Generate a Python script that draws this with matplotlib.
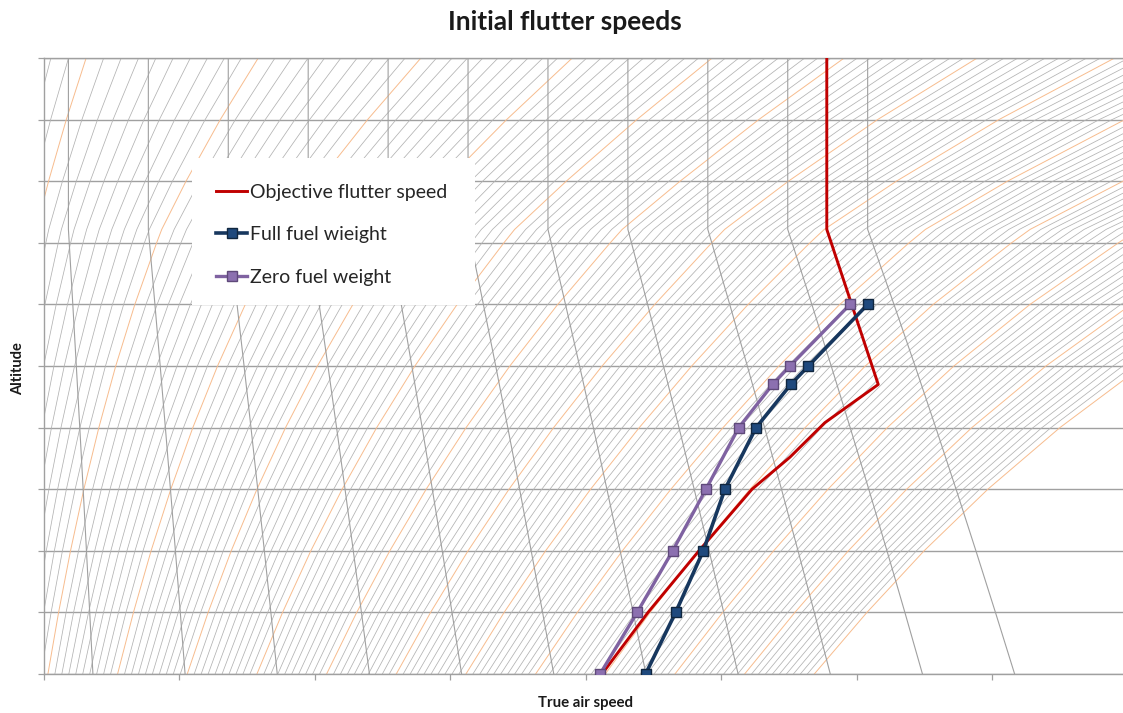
import numpy as np
import matplotlib
matplotlib.use("Agg")
import matplotlib.pyplot as plt
from matplotlib.patches import Rectangle

plt.rcParams['font.family'] = ['Lato', 'DejaVu Sans']

# ---------------- data ----------------
# Standard atmosphere table (altitude ft, temperature ratio, pressure ratio)
isa_alt_ft = [0, 5000, 10000, 15000, 20000, 25000, 30000, 35000, 36089, 40000, 45000, 50000]
isa_theta = [1.0000, 0.9656, 0.9312, 0.8969, 0.8625, 0.8281, 0.7937, 0.7594, 0.7519, 0.7519, 0.7519, 0.7519]
isa_delta = [1.0000, 0.8320, 0.6877, 0.5643, 0.4595, 0.3711, 0.2970, 0.2353, 0.2234, 0.1851, 0.1455, 0.1145]

# background reference lines
cas_levels_kt = list(range(10, 655, 5))       # constant calibrated airspeed lines
mach_levels = [0.2, 0.3, 0.4, 0.5, 0.6, 0.7, 0.8, 0.9, 1.0, 1.1, 1.2]

# flutter speed series (true air speed m/s vs altitude ft)
objective_alt_ft = [0, 5000, 10000, 15000, 17600, 20400, 23500, 36089, 50000]
objective_tas = [256.0, 273.0, 291.8, 311.4, 325.4, 338.3, 358.0, 339.0, 339.0]

full_alt_ft = [0, 5000, 10000, 15000, 20000, 23500, 25000, 30000]
full_tas = [272.1, 283.2, 293.4, 301.4, 312.9, 325.7, 332.2, 354.1]

zero_alt_ft = [0, 5000, 10000, 15000, 20000, 23500, 25000, 30000]
zero_tas = [255.3, 269.0, 282.1, 294.4, 306.5, 319.0, 325.4, 347.6]

x_ticks = list(range(50, 451, 50))
y_ticks = list(range(0, 50001, 5000))

# ---------------- figure ----------------
W, H = 1123, 713
fig = plt.figure(figsize=(W / 100, H / 100), dpi=100)
px_per_ms = 2.7086
x_left_px, y_top_px, y_bot_px = 44, 58, 674
right_px = x_left_px + (450 - 50) * px_per_ms
ax = fig.add_axes([x_left_px / W, (H - y_bot_px) / H,
                   (right_px - x_left_px) / W, (y_bot_px - y_top_px) / H])
ax.set_xlim(50, 450)
ax.set_ylim(0, 50000)

grid_col = '#A0A0A0'
ax.set_xticks(x_ticks)
ax.set_yticks(y_ticks)
ax.tick_params(direction='out', length=4, width=0.9, color=grid_col,
               labelbottom=False, labelleft=False)
ax.yaxis.grid(True, color=grid_col, lw=1.0, zorder=0)
ax.set_axisbelow(True)
ax.spines['right'].set_visible(False)
for s in ['left', 'bottom', 'top']:
    ax.spines[s].set_color(grid_col)
    ax.spines[s].set_linewidth(1.0)

alt = np.array(isa_alt_ft, float)
th = np.array(isa_theta)
de = np.array(isa_delta)
a0 = 340.294
kt = 0.514444

# pitot relation: impact pressure ratio vs Mach (subsonic isentropic / Rayleigh supersonic)
m_grid = np.linspace(0.0, 3.0, 3001)
qp_grid = np.where(m_grid <= 1.0,
                   (1 + 0.2 * m_grid ** 2) ** 3.5 - 1,
                   (1.2 * m_grid ** 2) ** 3.5 * (2.4 / np.maximum(2.8 * m_grid ** 2 - 0.4, 1e-9)) ** 2.5 - 1)

for vc in cas_levels_kt:
    v = vc * kt
    qc_p0 = (1 + 0.2 * (v / a0) ** 2) ** 3.5 - 1
    mach = np.interp(qc_p0 / de, qp_grid, m_grid)
    tas = mach * a0 * np.sqrt(th)
    if vc % 50 == 0:
        ax.plot(tas, alt, color='#F7BC8E', lw=0.7, zorder=1.5)
    else:
        ax.plot(tas, alt, color='#B2B2B2', lw=0.55, zorder=1.4)

for m in mach_levels:
    ax.plot(m * a0 * np.sqrt(th), alt, color='#A0A0A0', lw=0.8, zorder=1.6)

l_obj, = ax.plot(objective_tas, objective_alt_ft, color='#C00000', lw=2.1, zorder=4,
                 label='Objective flutter speed')
l_full, = ax.plot(full_tas, full_alt_ft, color='#17375E', lw=2.6, marker='s',
                  markersize=7, markerfacecolor='#1F497D', markeredgecolor='#10263F',
                  markeredgewidth=1.0, zorder=5, label='Full fuel wieight')
l_zero, = ax.plot(zero_tas, zero_alt_ft, color='#7F62A1', lw=2.4, marker='s',
                  markersize=6.5, markerfacecolor='#8C70B0', markeredgecolor='#5F497A',
                  markeredgewidth=1.0, zorder=5, label='Zero fuel weight')

# legend area (white box)
axw = right_px - x_left_px
axh = y_bot_px - y_top_px
bx0, bx1, by0, by1 = 192, 475, 158, 305
ax.add_patch(Rectangle(((bx0 - x_left_px) / axw, (y_bot_px - by1) / axh),
                       (bx1 - bx0) / axw, (by1 - by0) / axh,
                       transform=ax.transAxes, facecolor='white', edgecolor='none',
                       zorder=9))
leg = ax.legend(handles=[l_obj, l_full, l_zero], loc='upper left',
                bbox_to_anchor=((216 - x_left_px) / axw, (y_bot_px - 184) / axh),
                frameon=False, fontsize=14, handlelength=1.6, handletextpad=0.15,
                labelspacing=1.3, borderpad=0, borderaxespad=0)
leg.set_zorder(10)
for t in leg.get_texts():
    t.set_color('#262626')

fig.suptitle('Initial flutter speeds', x=564.5 / W, y=1 - 22 / H, va='center',
             fontsize=19, fontweight='bold', color='#1A1A1A')
ax.set_xlabel('True air speed', fontsize=10.8, fontweight='bold', va='center', color='#1A1A1A')
ax.xaxis.set_label_coords(0.5, -(703 - y_bot_px) / axh)
ax.set_ylabel('Altitude', fontsize=10.5, fontweight='bold', va='center', color='#1A1A1A')
ax.yaxis.set_label_coords(-(x_left_px - 18) / axw, 0.5 - 3 / axh)

fig.savefig('out.png', dpi=100)
